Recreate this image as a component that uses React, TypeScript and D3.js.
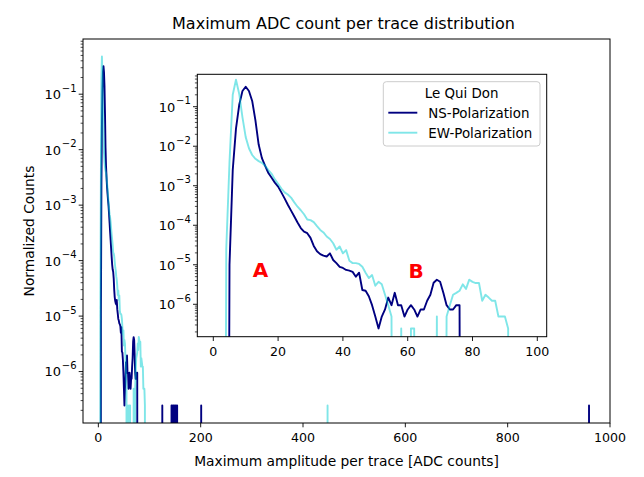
import React from "react";
import * as d3 from "d3";

const FONT = "'DejaVu Sans', 'Liberation Sans', sans-serif";

const TITLE = "Maximum ADC count per trace distribution";
const X_LABEL = "Maximum amplitude per trace [ADC counts]";
const Y_LABEL = "Normalized Counts";
const LEGEND_TITLE = "Le Qui Don";
const seriesNames = ["NS-Polarization", "EW-Polarization"];
const annotations = ["A", "B"];
const annotationX = [14.6, 62.6];
const annotationY = [7.4e-6, 7.2e-6];

const MAX_BIN = 1000;

// NS polarization: normalized counts for consecutive bins starting at nsCoreStart
const nsCoreStart = 5;
const nsCore = [
  1.0e-5, 2.5e-3, 2.8e-2, 1.12e-1, 2.5e-1, 3.2e-1, 2.5e-1, 1.4e-1, 4.5e-2, 1.1e-2,
  5.0e-3, 3.2e-3, 2.1e-3, 1.6e-3, 1.2e-3, 9.5e-4, 6.8e-4, 4.8e-4, 3.3e-4, 2.35e-4,
  1.66e-4, 1.17e-4, 8.5e-5, 6.9e-5, 6.3e-5, 4.8e-5, 3.0e-5, 2.2e-5, 1.86e-5, 1.7e-5,
  1.62e-5, 1.95e-5, 1.32e-5, 1.1e-5, 8.9e-6, 8.3e-6, 7.4e-6, 7.1e-6, 6.6e-6, 5.0e-6,
  6.3e-6, 2.3e-6, 2.2e-6, 1.6e-6, 9.5e-7, 4.9e-7, 2.45e-7, 4.9e-7, 7.4e-7, 1.48e-6,
  9.5e-7, 1.95e-6, 9.5e-7, 9.5e-7, 4.9e-7, 7.4e-7, 9.5e-7, 7.4e-7, 4.9e-7, 7.4e-7,
  7.4e-7, 1.23e-6, 1.74e-6, 3.5e-6, 4.17e-6, 3.72e-6, 1.95e-6, 9.5e-7, 7.4e-7, 7.4e-7,
  9.5e-7, 9.5e-7,
];
const nsIsolatedBins = [125, 143, 144, 146, 147, 149, 151, 152, 154, 201, 959];
const nsIsolatedValues = [2.45e-7, 2.45e-7, 2.45e-7, 2.45e-7, 2.45e-7, 2.45e-7, 2.45e-7, 2.45e-7, 2.45e-7, 2.45e-7, 2.45e-7];

// EW polarization
const ewCoreStart = 4;
const ewCore = [
  2.5e-5, 4.0e-3, 2.0e-1, 4.8e-1, 2.1e-1, 5.4e-2, 1.7e-2, 8.9e-3, 6.0e-3, 4.8e-3,
  4.2e-3, 3.8e-3, 3.2e-3, 2.5e-3, 2.0e-3, 1.45e-3, 1.12e-3, 8.5e-4, 6.8e-4, 6.0e-4,
  5.0e-4, 3.8e-4, 2.95e-4, 2.4e-4, 1.9e-4, 1.4e-4, 1.35e-4, 1.2e-4, 9.5e-5, 7.6e-5,
  6.6e-5, 5.2e-5, 4.5e-5, 3.5e-5, 2.4e-5, 2.9e-5, 1.95e-5, 2.35e-5, 1.26e-5, 1.1e-5,
  1.1e-5, 1.05e-5, 8.9e-6, 6.3e-6, 4.6e-6, 5.5e-6, 2.95e-6, 3.7e-6, 3.2e-6, 1.74e-6,
  9.5e-7, 4.9e-7, 0, 0, 2.45e-7, 0, 0, 2.45e-7, 2.45e-7, 0,
  0, 0, 0, 0, 0, 4.9e-7, 0, 0, 4.9e-7, 9.5e-7,
  1.74e-6, 1.95e-6, 2.2e-6, 3.2e-6, 2.45e-6, 4.2e-6, 3.7e-6, 3.45e-6, 3.45e-6, 1.23e-6,
  1.74e-6, 1.48e-6, 1.23e-6, 1.23e-6, 4.9e-7, 4.9e-7, 4.9e-7, 2.45e-7,
];
const ewIsolatedBins = [448];
const ewIsolatedValues = [2.45e-7];

const mainXTicks = [0, 200, 400, 600, 800, 1000];
const insetXTicks = [0, 20, 40, 60, 80, 100];
const majorExponents = [-6, -5, -4, -3, -2, -1];

const NS_COLOR = "#000080";
const EW_COLOR = "#00ced1";
const EW_OPACITY = 0.5;
const FLOOR = 1e-30;

type Pt = { x: number; y: number };

function buildHistogram(start: number, core: number[], isoBins: number[], isoVals: number[]): Pt[] {
  const h = new Array(MAX_BIN + 1).fill(0);
  core.forEach((v, i) => (h[start + i] = v));
  isoBins.forEach((b, i) => (h[b] = isoVals[i]));
  return h.map((v, i) => ({ x: i, y: v }));
}

const nsData = buildHistogram(nsCoreStart, nsCore, nsIsolatedBins, nsIsolatedValues);
const ewData = buildHistogram(ewCoreStart, ewCore, ewIsolatedBins, ewIsolatedValues);

const MAIN = { left: 83, right: 610, top: 39, bottom: 423 };
const INSET = { left: 197.3, right: 546.7, top: 74.3, bottom: 336.7 };

function minorTicks(domain: number[]) {
  const out: number[] = [];
  for (let k = -8; k <= 1; k++) {
    for (let m = 2; m <= 9; m++) {
      const v = m * Math.pow(10, k);
      if (v >= domain[0] && v <= domain[1]) out.push(v);
    }
  }
  return out;
}

function LogYAxis({ y, x0, fs, sup, ticks }: any) {
  const dom = y.domain();
  return (
    <g>
      {minorTicks(dom).map((v: number, i: number) => (
        <line key={"m" + i} x1={x0} x2={x0 - 2.4} y1={y(v)} y2={y(v)} stroke="#000" strokeWidth={0.7} />
      ))}
      {ticks.map((e: number) => {
        const v = Math.pow(10, e);
        const yy = y(v);
        return (
          <g key={e}>
            <line x1={x0} x2={x0 - 4.3} y1={yy} y2={yy} stroke="#000" strokeWidth={0.9} />
            <text x={x0 - 6.5} y={yy + 4.9} textAnchor="end" fontSize={fs} fontFamily={FONT} fill="#000">
              10
              <tspan dx={0.8} dy={-7.2} fontSize={sup}>{`\u2212${-e}`}</tspan>
            </text>
          </g>
        );
      })}
    </g>
  );
}

function XAxis({ x, y0, ticks, fs }: any) {
  return (
    <g>
      {ticks.map((t: number) => (
        <g key={t}>
          <line x1={x(t)} x2={x(t)} y1={y0} y2={y0 + 4.3} stroke="#000" strokeWidth={0.9} />
          <text x={x(t)} y={y0 + 18.8} textAnchor="middle" fontSize={fs} fontFamily={FONT} fill="#000">
            {t}
          </text>
        </g>
      ))}
    </g>
  );
}

export default function App() {
  const xMain = d3.scaleLinear().domain([-30, 1000]).range([MAIN.left, MAIN.right]);
  const yMain = d3.scaleLog().domain([Math.pow(10, -6.927), Math.pow(10, -0.005)]).range([MAIN.bottom, MAIN.top]);
  const xIn = d3.scaleLinear().domain([-4.94, 102.9]).range([INSET.left, INSET.right]);
  const yIn = d3.scaleLog().domain([Math.pow(10, -6.82), Math.pow(10, -0.18)]).range([INSET.bottom, INSET.top]);

  const lineMain = d3
    .line<Pt>()
    .x((d) => xMain(d.x))
    .y((d) => yMain(Math.max(d.y, FLOOR)));
  const lineIn = d3
    .line<Pt>()
    .x((d) => xIn(d.x))
    .y((d) => yIn(Math.max(d.y, FLOOR)));

  const fs = 12.6;
  const yfs = 13;
  const sup = 10;
  const labelFs = 13.8;

  const legX = 383.3, legY = 81.7, legW = 156.7, legH = 64.3;

  return (
    <svg width={644} height={477} style={{ position: "absolute", left: 0, top: 0, background: "#fff" }}>
      <defs>
        <clipPath id="clipMain">
          <rect x={MAIN.left} y={MAIN.top} width={MAIN.right - MAIN.left} height={MAIN.bottom - MAIN.top} />
        </clipPath>
        <clipPath id="clipInset">
          <rect x={INSET.left} y={INSET.top} width={INSET.right - INSET.left} height={INSET.bottom - INSET.top} />
        </clipPath>
      </defs>
      <rect x={0} y={0} width={644} height={477} fill="#fff" />

      {/* main axes */}
      <g clipPath="url(#clipMain)">
        <path d={lineMain(nsData) || ""} fill="none" stroke={NS_COLOR} strokeWidth={1.9} strokeLinejoin="round" />
        <path d={lineMain(ewData) || ""} fill="none" stroke={EW_COLOR} strokeOpacity={EW_OPACITY} strokeWidth={1.9} strokeLinejoin="round" />
      </g>
      <rect x={MAIN.left} y={MAIN.top} width={MAIN.right - MAIN.left} height={MAIN.bottom - MAIN.top} fill="none" stroke="#000" strokeWidth={1} />
      <XAxis x={xMain} y0={MAIN.bottom} ticks={mainXTicks} fs={fs} />
      <LogYAxis y={yMain} x0={MAIN.left} fs={yfs} sup={sup} ticks={majorExponents} />
      <text x={(MAIN.left + MAIN.right) / 2 - 3} y={28.5} textAnchor="middle" fontSize={16} fontFamily={FONT} fill="#000">
        {TITLE}
      </text>
      <text x={(MAIN.left + MAIN.right) / 2} y={466} textAnchor="middle" fontSize={labelFs} fontFamily={FONT} fill="#000">
        {X_LABEL}
      </text>
      <text
        transform={`translate(33.5, ${(MAIN.top + MAIN.bottom) / 2}) rotate(-90)`}
        textAnchor="middle"
        fontSize={labelFs}
        fontFamily={FONT}
        fill="#000"
      >
        {Y_LABEL}
      </text>

      {/* inset axes */}
      <rect x={INSET.left} y={INSET.top} width={INSET.right - INSET.left} height={INSET.bottom - INSET.top} fill="#fff" />
      <g clipPath="url(#clipInset)">
        <path d={lineIn(nsData) || ""} fill="none" stroke={NS_COLOR} strokeWidth={1.9} strokeLinejoin="round" />
        <path d={lineIn(ewData) || ""} fill="none" stroke={EW_COLOR} strokeOpacity={EW_OPACITY} strokeWidth={1.9} strokeLinejoin="round" />
        {annotations.map((a, i) => (
          <text
            key={a}
            x={xIn(annotationX[i])}
            y={yIn(annotationY[i]) + 7.5}
            textAnchor="middle"
            fontSize={20}
            fontWeight="bold"
            fontFamily={FONT}
            fill="#ff0000"
          >
            {a}
          </text>
        ))}
      </g>
      <rect x={INSET.left} y={INSET.top} width={INSET.right - INSET.left} height={INSET.bottom - INSET.top} fill="none" stroke="#000" strokeWidth={1} />
      <XAxis x={xIn} y0={INSET.bottom} ticks={insetXTicks} fs={fs} />
      <LogYAxis y={yIn} x0={INSET.left} fs={yfs} sup={sup} ticks={majorExponents} />

      {/* legend */}
      <rect x={legX} y={legY} width={legW} height={legH} rx={3} fill="#fff" fillOpacity={0.8} stroke="#cccccc" strokeWidth={1} />
      <text x={legX + legW / 2} y={legY + 16} textAnchor="middle" fontSize={13.4} fontFamily={FONT} fill="#000">
        {LEGEND_TITLE}
      </text>
      {seriesNames.map((n, i) => {
        const yy = legY + 31 + i * 20;
        return (
          <g key={n}>
            <line
              x1={legX + 5}
              x2={legX + 34}
              y1={yy}
              y2={yy}
              stroke={i === 0 ? NS_COLOR : EW_COLOR}
              strokeOpacity={i === 0 ? 1 : EW_OPACITY}
              strokeWidth={1.9}
            />
            <text x={legX + 45} y={yy + 4.8} fontSize={13.4} fontFamily={FONT} fill="#000">
              {n}
            </text>
          </g>
        );
      })}
    </svg>
  );
}
